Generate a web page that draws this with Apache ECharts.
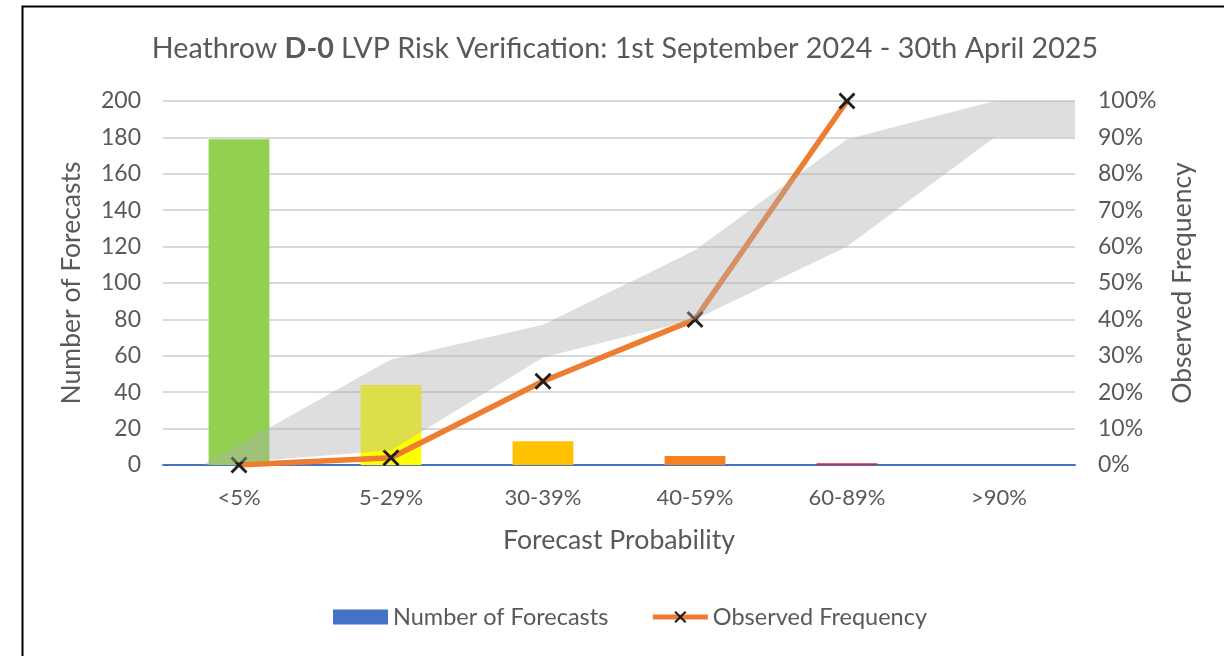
<!DOCTYPE html>
<html>
<head>
<meta charset="utf-8">
<script src="https://cdn.jsdelivr.net/npm/echarts@6/dist/echarts.min.js"></script>
<style>
  html, body { margin: 0; padding: 0; background: #ffffff; }
  #chart { width: 1224px; height: 656px; }
</style>
</head>
<body>
<div id="chart"></div>
<script>
// ---- data ----
const categories = ['<5%', '5-29%', '30-39%', '40-59%', '60-89%', '>90%'];
const forecastCounts = [179, 44, 13, 5, 1, 0];
const observedFreq = [0, 0.02, 0.23, 0.40, 1.00, null];
const leftTicks = [0, 20, 40, 60, 80, 100, 120, 140, 160, 180, 200];
const rightTicks = [0, 0.1, 0.2, 0.3, 0.4, 0.5, 0.6, 0.7, 0.8, 0.9, 1.0];
// perfect-reliability band (x in category-index units, y as fraction)
const bandX = [0.26, 1.5, 2.5, 3.5, 4.5, 5.47, 6.0];
const bandUpper = [0, 0.29, 0.385, 0.59, 0.895, 1.0, 1.0];
const bandLower = [0, 0.04, 0.295, 0.40, 0.60, 0.90, 0.90];

// ---- styles ----
const barColors = ['#92d050', '#ffff00', '#ffc000', '#f5821f', '#d42a3c', '#4472c4'];
const textColor = '#595959';
const FONT = 'Lato, "Liberation Sans", sans-serif';
const xMark = 'path://M0,1.2 L1.2,0 L5,3.8 L8.8,0 L10,1.2 L6.2,5 L10,8.8 L8.8,10 L5,6.2 L1.2,10 L0,8.8 L3.8,5 Z';

const chart = echarts.init(document.getElementById('chart'), null, { renderer: 'canvas' });

const option = {
  animation: false,
  backgroundColor: '#ffffff',
  textStyle: { fontFamily: FONT },
  graphic: [{
    type: 'rect',
    left: 20, top: 4,
    shape: { width: 1300, height: 800 },
    style: { fill: 'none', stroke: '#000000', lineWidth: 2 },
    z: 100
  }],
  title: {
    text: '{n|Heathrow }{b|D-0}{n| LVP Risk Verification: 1st September 2024 - 30th April 2025}',
    left: 620, top: 29, textAlign: 'center',
    textStyle: {
      fontWeight: 'normal',
      rich: {
        n: { fontFamily: FONT, fontSize: 28.7, color: textColor, fontWeight: 'normal' },
        b: { fontFamily: FONT, fontSize: 28.7, color: textColor, fontWeight: 'bold' }
      }
    }
  },
  legend: {
    data: [
      { name: 'Number of Forecasts', icon: 'rect' },
      { name: 'Observed Frequency', lineStyle: { width: 5 } }
    ],
    left: 328, top: 600,
    itemWidth: 55, itemHeight: 15, itemGap: 42, itemTextGap: 6,
    textStyle: { fontFamily: FONT, fontSize: 23.5, color: textColor }
  },
  grid: { left: 163, right: 149, top: 101, bottom: 191, containLabel: false },
  xAxis: [{
    type: 'category',
    data: categories,
    name: 'Forecast Probability',
    nameLocation: 'middle', nameGap: 62,
    nameTextStyle: { fontFamily: FONT, fontSize: 26.7, color: textColor },
    axisLine: { show: true, onZero: false, lineStyle: { color: '#4472c4', width: 2 } },
    axisTick: { show: false },
    axisLabel: { fontFamily: FONT, fontSize: 22, color: textColor, margin: 22 }
  }, {
    type: 'value', min: 0, max: 6, show: false
  }],
  yAxis: [{
    type: 'value', min: 0, max: 200, interval: 20,
    name: 'Number of Forecasts',
    nameLocation: 'middle', nameGap: 78, nameRotate: 90,
    nameTextStyle: { fontFamily: FONT, fontSize: 26.5, color: textColor },
    axisLine: { show: false }, axisTick: { show: false },
    axisLabel: { fontFamily: FONT, fontSize: 23, color: textColor, margin: 22,
      formatter: v => leftTicks.includes(v) ? String(v) : '' },
    splitLine: { show: true, lineStyle: { color: '#d9d9d9', width: 2 } }
  }, {
    type: 'value', min: 0, max: 1, interval: 0.1, position: 'right',
    name: 'Observed Frequency',
    nameLocation: 'middle', nameGap: 94, nameRotate: 90,
    nameTextStyle: { fontFamily: FONT, fontSize: 26.5, color: textColor },
    axisLine: { show: false }, axisTick: { show: false },
    axisLabel: { fontFamily: FONT, fontSize: 23, color: textColor, margin: 23,
      formatter: v => {
        const t = rightTicks.find(r => Math.abs(r - v) < 1e-6);
        return t === undefined ? '' : Math.round(t * 100) + '%';
      } },
    splitLine: { show: false }
  }],
  series: [{
    name: 'Number of Forecasts',
    type: 'bar',
    xAxisIndex: 0, yAxisIndex: 0,
    barWidth: '40%',
    itemStyle: { color: '#4472c4' },
    data: forecastCounts.map((v, i) => ({ value: v, itemStyle: { color: barColors[i] } })),
    z: 2
  }, {
    name: 'Observed Frequency',
    type: 'line',
    xAxisIndex: 0, yAxisIndex: 1,
    data: observedFreq,
    symbol: xMark, symbolSize: 17, showAllSymbol: true,
    lineStyle: { color: '#ed7d31', width: 5.5 },
    itemStyle: { color: '#1e1e1e' },
    connectNulls: false,
    z: 3
  }, {
    name: 'band',
    type: 'custom',
    xAxisIndex: 1, yAxisIndex: 1,
    data: [[0, 0]],
    silent: true,
    renderItem: (params, api) => {
      const pts = [];
      for (let i = 0; i < bandX.length; i++) pts.push(api.coord([bandX[i], bandUpper[i]]));
      for (let i = bandX.length - 1; i >= 0; i--) pts.push(api.coord([bandX[i], bandLower[i]]));
      return { type: 'polygon', shape: { points: pts }, style: { fill: 'rgba(177,177,177,0.42)' } };
    },
    z: 4
  }]
};
chart.setOption(option);
</script>
</body>
</html>
